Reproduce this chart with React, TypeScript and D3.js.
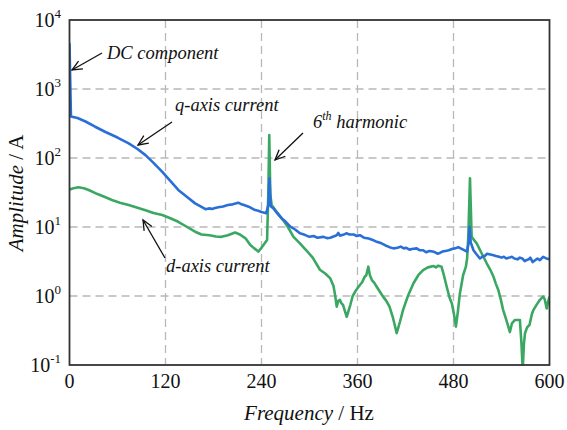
import React from "react";
import * as d3 from "d3";

// Spectrum of the q- and d-axis currents: [frequency Hz, amplitude A]
const qAxisCurrent: [number, number][] = [
  [0, 4600], [0.8, 1500], [1.8, 400], [10, 380], [20, 338], [32, 284], [45, 238], [60, 198],
  [74, 163], [85, 135], [95, 110], [105, 85], [116, 63], [126, 46.5], [136, 34.4], [147, 27.2],
  [157, 22], [165, 19.5], [170, 18.1], [174, 18.6], [178, 18.3], [182, 18.9], [186, 19.3],
  [192, 19.8], [198, 20.8], [204, 21.3], [211, 22.5], [214, 21.6], [218, 20.8], [224, 19.7],
  [228, 18.6], [232, 17.6], [236, 17.2], [240, 16.5], [246, 15.8], [248.5, 21], [250, 51],
  [251.5, 20], [255, 18.5], [260, 15.6], [265, 13.4], [270, 12.0], [276, 10.1], [282, 9.2],
  [288, 8.1], [294, 7.7], [300, 7.2], [305, 7.4], [310, 7.0], [317, 7.2], [322, 6.9],
  [326, 7.0], [330, 7.3], [334, 7.6], [336, 8.2], [338, 7.5], [342, 7.7], [346, 8.1],
  [350, 7.8], [355, 7.8], [359, 7.4], [363, 7.6], [368, 7.0], [374, 6.8], [379, 6.5],
  [384, 6.1], [390, 5.8], [395, 5.4], [400, 5.1], [405, 4.9], [410, 5.0], [414, 5.2],
  [418, 4.9], [421, 5.0], [425, 4.7], [428, 4.8], [434, 4.9], [438, 4.6], [442, 4.6],
  [446, 4.3], [450, 4.5], [454, 4.4], [457, 4.3], [460, 4.1], [463, 4.2], [466, 4.4],
  [470, 4.5], [474, 4.6], [478, 4.8], [482, 4.9], [486, 5.1], [489, 4.9], [492, 4.7],
  [497, 4.4], [499, 6], [500, 10.1], [501.5, 6], [505, 4.6], [509, 4.0], [513, 3.5],
  [516, 3.7], [519, 3.8], [522, 4.1], [526, 4.0], [530, 3.9], [533, 3.8], [537, 3.7],
  [540, 3.6], [543, 3.7], [546, 3.5], [550, 3.6], [553, 3.7], [556, 3.5], [560, 3.4],
  [563, 3.6], [566, 3.5], [569, 3.2], [571, 3.3], [574, 3.4], [576, 3.6], [579, 3.1],
  [582, 3.3], [585, 3.5], [588, 3.3], [592, 3.7], [596, 3.5], [600, 3.4],
];

const dAxisCurrent: [number, number][] = [
  [0, 35], [5, 36.5], [11, 37.6], [18, 36.5], [24, 34.4], [35, 30], [45, 27], [53, 24.6],
  [63, 22.5], [74, 20.8], [85, 19], [95, 17.5], [105, 16], [116, 14.9], [126, 13.4],
  [136, 11.9], [147, 10], [157, 8.55], [165, 7.8], [175, 7.6], [183, 7.3], [190, 7.2],
  [198, 7.6], [207, 8.3], [213, 7.8], [220, 6.85], [226, 5.5], [231, 4.9], [236, 4.4],
  [240, 5.0], [244, 5.8], [247, 6.5], [248.5, 30], [249.7, 215], [251, 30], [252.7, 20.8],
  [260, 16], [267, 12.6], [273, 10], [280, 7.2], [288, 5.8], [296, 4.6], [304, 3.6],
  [313, 2.4], [320, 2.1], [326, 1.8], [330, 1.4], [332, 1.03], [334, 0.7], [336, 0.85],
  [338, 0.88], [340, 0.78], [342, 0.74], [344, 0.62], [346.5, 0.5], [349, 0.62], [351, 0.74],
  [354, 1.0], [357, 1.15], [360, 1.3], [363, 1.44], [366, 1.6], [369, 1.9], [371, 2.0],
  [373.5, 2.66], [375.5, 2.0], [378, 1.7], [381, 1.55], [384, 1.36], [388, 1.15], [392, 0.98],
  [396, 0.85], [400, 0.7], [404, 0.5], [409, 0.29], [413, 0.42], [417, 0.63], [423, 1.0],
  [430, 1.53], [436, 2.0], [442, 2.38], [448, 2.6], [455, 2.72], [458, 2.6], [461, 2.75],
  [465, 2.66], [468, 2.0], [471.5, 1.36], [475, 0.95], [478, 0.78], [480.5, 0.55], [483, 0.36],
  [485.5, 0.6], [488, 1.09], [492, 2.0], [495.5, 2.66], [497, 3.5], [498.5, 7.2], [500.6, 51],
  [502.7, 7.2], [506, 6.4], [509, 5.8], [515, 4.2], [521.5, 2.98], [526, 2.4], [530, 1.9],
  [533, 1.5], [536, 1.22], [539, 0.9], [542, 0.63], [546, 0.45], [550.5, 0.3], [553, 0.4],
  [556.9, 0.45], [560, 0.45], [563, 0.45], [565, 0.2], [566.5, 0.085], [568, 0.2], [569.4, 0.29],
  [572, 0.35], [575, 0.38], [578, 0.55], [580, 0.63], [584, 0.75], [588, 0.88], [592, 0.98],
  [594, 0.9], [596.5, 0.66], [598, 0.8], [600, 0.98],
];

const xTicks = [0, 120, 240, 360, 480, 600];
const yExponents = [-1, 0, 1, 2, 3, 4];

const W = 567;
const H = 430;
const left = 69.5;
const right = 549.5;
const top = 20;
const bottom = 365;

const serif = "Liberation Serif";
const blue = "#2a6fd8";
const green = "#3aa863";

function Arrow({ x1, y1, x2, y2 }: { x1: number; y1: number; x2: number; y2: number }) {
  const a = Math.atan2(y2 - y1, x2 - x1);
  const len = 11;
  const spread = 0.42;
  const p1 = [x2 - len * Math.cos(a - spread), y2 - len * Math.sin(a - spread)];
  const p2 = [x2 - len * Math.cos(a + spread), y2 - len * Math.sin(a + spread)];
  return (
    <g stroke="#111" strokeWidth={1.3} fill="none">
      <line x1={x1} y1={y1} x2={x2} y2={y2} />
      <polyline points={`${p1[0]},${p1[1]} ${x2},${y2} ${p2[0]},${p2[1]}`} />
    </g>
  );
}

export default function App() {
  const x = d3.scaleLinear().domain([0, 600]).range([left, right]);
  const y = d3.scaleLog().domain([0.1, 10000]).range([bottom, top]);
  const line = d3
    .line<[number, number]>()
    .x((d) => x(d[0]))
    .y((d) => y(d[1]));

  return (
    <svg
      width={W}
      height={H}
      style={{ position: "absolute", left: 0, top: 0, background: "#fff" }}
    >
      <defs>
        <clipPath id="plotArea">
          <rect x={left} y={top} width={right - left} height={bottom - top} />
        </clipPath>
      </defs>

      {/* dashed grid */}
      <g stroke="#b8b8b8" strokeWidth={1.3} strokeDasharray="8 5">
        {xTicks.slice(1, -1).map((t) => (
          <line key={`gx${t}`} x1={x(t)} x2={x(t)} y1={top} y2={bottom} />
        ))}
        {yExponents.slice(1, -1).map((e) => (
          <line key={`gy${e}`} x1={left} x2={right} y1={y(10 ** e)} y2={y(10 ** e)} />
        ))}
      </g>

      {/* spectra */}
      <g clipPath="url(#plotArea)" fill="none" strokeWidth={2.6} strokeLinejoin="round">
        <path d={line(dAxisCurrent) ?? ""} stroke={green} />
        <path d={line(qAxisCurrent) ?? ""} stroke={blue} />
      </g>

      {/* frame */}
      <rect
        x={left}
        y={top}
        width={right - left}
        height={bottom - top}
        fill="none"
        stroke="#333"
        strokeWidth={1.8}
      />

      {/* x tick labels */}
      {xTicks.map((t) => (
        <text
          key={`xt${t}`}
          x={x(t)}
          y={388}
          fontSize={20}
          textAnchor="middle"
          fill="#111"
          style={{ fontFamily: serif }}
        >
          {t}
        </text>
      ))}

      {/* y tick labels */}
      {yExponents.map((e) => (
        <text
          key={`yt${e}`}
          x={61}
          y={y(10 ** e) + 7}
          fontSize={20}
          textAnchor="end"
          fill="#111"
          style={{ fontFamily: serif }}
        >
          <tspan>10</tspan>
          <tspan dy={-9} fontSize={13}>
            {e}
          </tspan>
        </text>
      ))}

      {/* axis titles */}
      <text x={309} y={420} fontSize={21} textAnchor="middle" fill="#111" style={{ fontFamily: serif }}>
        <tspan fontStyle="italic">Frequency</tspan>
        <tspan> / Hz</tspan>
      </text>
      <text
        transform="translate(23,193) rotate(-90)"
        fontSize={21}
        textAnchor="middle"
        fill="#111"
        style={{ fontFamily: serif }}
      >
        <tspan fontStyle="italic">Amplitude</tspan>
        <tspan> / A</tspan>
      </text>

      {/* annotations */}
      <text x={107} y={59} fontSize={18.5} fontStyle="italic" fill="#111" style={{ fontFamily: serif }}>
        DC component
      </text>
      <text x={175} y={111} fontSize={18.5} fontStyle="italic" fill="#111" style={{ fontFamily: serif }}>
        q-axis current
      </text>
      <text x={313} y={128} fontSize={18.5} fontStyle="italic" fill="#111" style={{ fontFamily: serif }}>
        <tspan>6</tspan>
        <tspan dy={-8} fontSize={12}>th</tspan>
        <tspan dy={8}> harmonic</tspan>
      </text>
      <text x={166} y={272} fontSize={18.5} fontStyle="italic" fill="#111" style={{ fontFamily: serif }}>
        d-axis current
      </text>
      <Arrow x1={102} y1={53} x2={72} y2={70} />
      <Arrow x1={172} y1={122} x2={138} y2={145} />
      <Arrow x1={303} y1={133} x2={275} y2={160} />
      <Arrow x1={165} y1={258} x2={143} y2={220} />
    </svg>
  );
}
